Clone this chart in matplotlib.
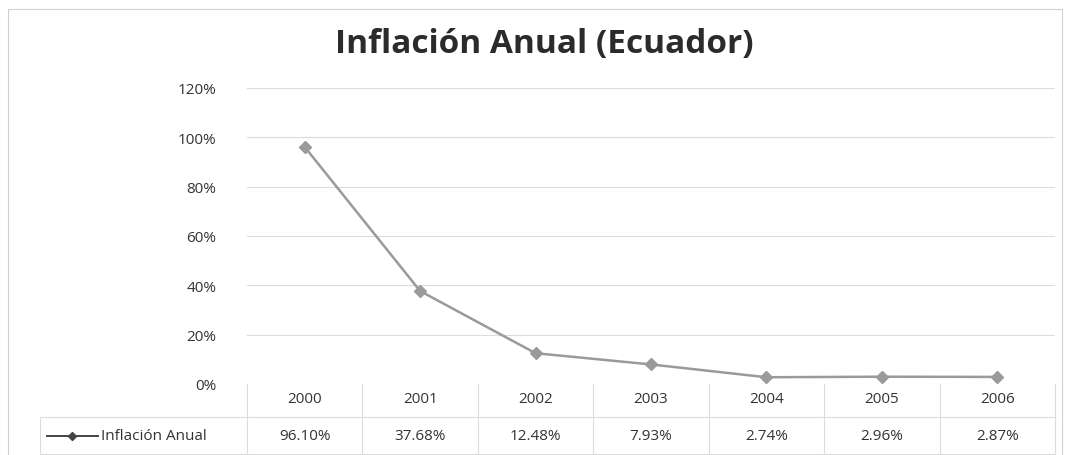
import matplotlib.pyplot as plt
from matplotlib.lines import Line2D
from matplotlib.patches import Rectangle

# Inflación anual del Ecuador, 2000-2006
years = ['2000', '2001', '2002', '2003', '2004', '2005', '2006']
inflation = [96.10, 37.68, 12.48, 7.93, 2.74, 2.96, 2.87]
yticks = [0, 20, 40, 60, 80, 100, 120]
series_name = 'Inflación Anual'

plt.rcParams['font.family'] = ['Open Sans', 'DejaVu Sans']
text_color = '#333333'
line_color = '#9a9a9a'
grid_color = '#dcdcdc'

W, H = 1071, 456
fig = plt.figure(figsize=(W / 100, H / 100), dpi=100)

# chart frame
fig.patches.append(Rectangle((8 / W, -2 / H), 1054 / W, 448 / H, transform=fig.transFigure,
                             fill=False, edgecolor='#d0d0d0', linewidth=0.8))

left, right = 247 / W, 1055 / W
bottom, top = 1 - 385 / H, 1 - 89 / H
ax = fig.add_axes([left, bottom, right - left, top - bottom])

x = list(range(len(years)))
ax.plot(x, inflation, color=line_color, linewidth=1.8, marker='D', markersize=6,
        markerfacecolor=line_color, markeredgecolor=line_color)

ax.set_xlim(-0.5, len(years) - 0.5)
ax.set_ylim(0, 120)
ax.set_yticks(yticks)
ax.set_yticklabels([f'{v}%' for v in yticks], fontsize=11, color=text_color)
ax.tick_params(axis='y', length=0, pad=22)
ax.set_xticks([])
for v in yticks:
    ax.axhline(v, color=grid_color, linewidth=0.8, zorder=0)
for s in ax.spines.values():
    s.set_visible(False)

fig.text(544 / W, 1 - 45 / H, 'Inflación Anual (Ecuador)', ha='center', va='center',
         fontsize=24, fontweight='bold', color='#2b2b2b')

# data table below the plot
trans = ax.get_xaxis_transform()
px = 1 / (H * (top - bottom))  # one pixel in axes-fraction units
row1 = -15 * px
row2 = -52 * px
for i, (yr, val) in enumerate(zip(years, inflation)):
    ax.text(i, row1, yr, transform=trans, ha='center', va='center', fontsize=11,
            color=text_color, clip_on=False)
    ax.text(i, row2, f'{val:.2f}%', transform=trans, ha='center', va='center',
            fontsize=11, color=text_color, clip_on=False)

for b in [i - 0.5 for i in range(len(years) + 1)]:
    ax.add_line(Line2D([b, b], [0, -71 * px], transform=trans, color=grid_color,
                       linewidth=0.8, clip_on=False))

for yy in (418, 455):
    fig.add_artist(Line2D([40 / W, 1055 / W], [1 - yy / H, 1 - yy / H], color=grid_color,
                          linewidth=0.8))
fig.add_artist(Line2D([40 / W, 40 / W], [1 - 418 / H, 1 - 455 / H], color=grid_color,
                      linewidth=0.8))

# legend key in the first table column
ky = 1 - 437 / H
fig.add_artist(Line2D([47 / W, 98 / W], [ky, ky], color='#444444', linewidth=1.4))
fig.add_artist(Line2D([72 / W], [ky], marker='D', markersize=4, color='#444444'))
fig.text(101 / W, ky, series_name, ha='left', va='center', fontsize=11, color=text_color)

fig.savefig('out.png', dpi=100)
